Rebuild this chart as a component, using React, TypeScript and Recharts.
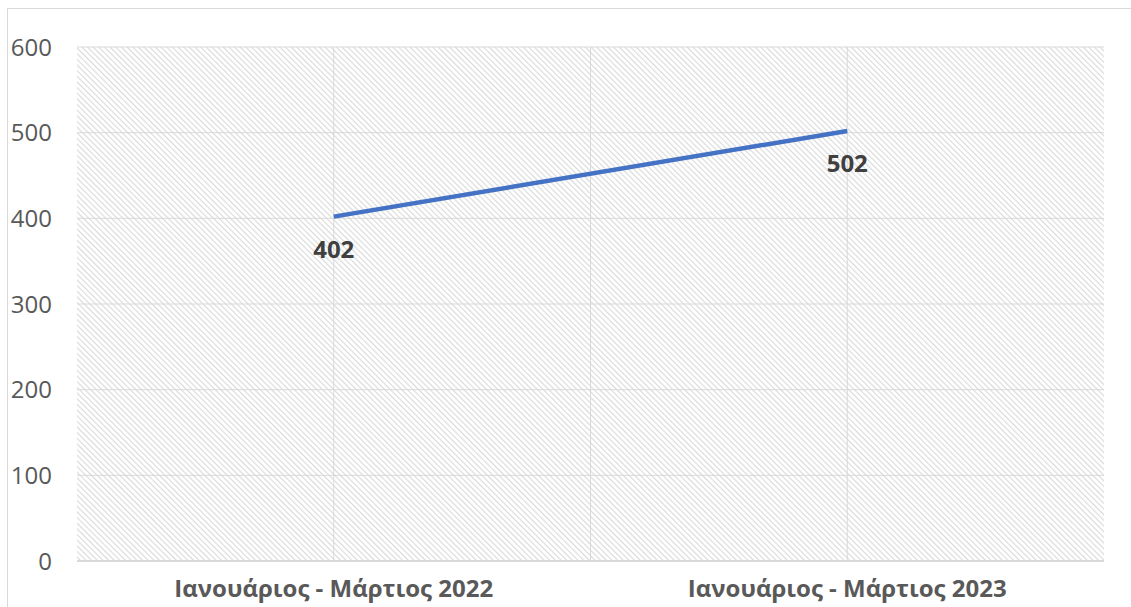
import React from "react";
import {
  LineChart,
  Line,
  XAxis,
  YAxis,
  CartesianGrid,
  LabelList,
} from "recharts";

const periods = ["Ιανουάριος - Μάρτιος 2022", "Ιανουάριος - Μάρτιος 2023"];
const totals = [402, 502];
const yTicks = [0, 100, 200, 300, 400, 500, 600];

const data = periods.map((period, i) => ({ period, total: totals[i] }));

const FONT = "'Open Sans', 'Noto Sans', sans-serif";

// vertical lines at band centres and at the band boundary
const verticalLines = ({ offset }: any) => {
  const n = periods.length * 2;
  const out: number[] = [];
  for (let k = 1; k < n; k++) out.push(offset.left + (offset.width * k) / n);
  return out;
};

const App = () => {
  return (
    <div style={{ position: "fixed", left: 0, top: 0, width: 1131, height: 607, background: "#fff" }}>
      <div
        style={{
          position: "absolute",
          left: 7,
          top: 8,
          width: 1140,
          height: 620,
          border: "1px solid #d9d9d9",
          boxSizing: "border-box",
        }}
      />
      <LineChart
        width={1131}
        height={607}
        data={data}
        margin={{ top: 47, right: 27, bottom: 16, left: 0 }}
        style={{ position: "absolute", left: 0, top: 0, fontFamily: FONT }}
      >
        <defs>
          <pattern
            id="hatch"
            patternUnits="userSpaceOnUse"
            width="4"
            height="4"
            patternTransform="rotate(-45)"
          >
            <rect x="0" y="0" width="4" height="4" fill="#ffffff" />
            <rect x="0" y="0" width="1.1" height="4" fill="#d9d9d9" />
          </pattern>
        </defs>
        <CartesianGrid
          fill="url(#hatch)"
          stroke="#d9d9d9"
          strokeWidth={1}
          verticalCoordinatesGenerator={verticalLines}
        />
        <XAxis
          dataKey="period"
          scale="band"
          height={30}
          axisLine={{ stroke: "#d9d9d9", strokeWidth: 2 }}
          tickLine={false}
          tickSize={0}
          tickMargin={19}
          tick={{ fill: "#595959", fontSize: 24, fontWeight: 700 }}
          interval={0}
        />
        <YAxis
          width={77}
          domain={[0, 600]}
          ticks={yTicks}
          axisLine={false}
          tickLine={false}
          tickSize={0}
          tickMargin={25}
          tick={{ fill: "#595959", fontSize: 24 }}
        />
        <Line
          type="linear"
          dataKey="total"
          stroke="#4472C4"
          strokeWidth={4.5}
          dot={false}
          isAnimationActive={false}
        >
          <LabelList
            dataKey="total"
            position="bottom"
            offset={24}
            fill="#404040"
            fontSize={24}
            fontWeight={700}
          />
        </Line>
      </LineChart>
    </div>
  );
};

export default App;
